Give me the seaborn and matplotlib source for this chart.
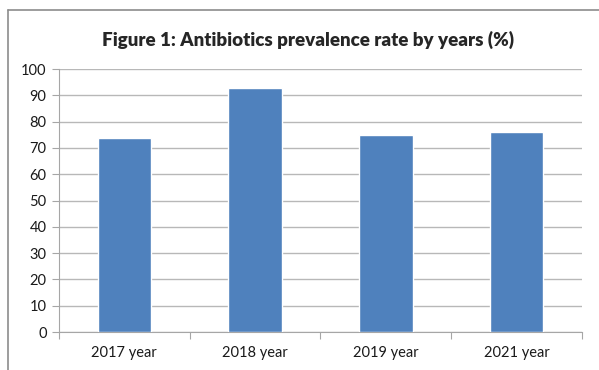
import matplotlib
matplotlib.use("Agg")
import matplotlib.pyplot as plt
import seaborn as sns
import pandas as pd
from matplotlib.lines import Line2D

# data
years = ["2017 year", "2018 year", "2019 year", "2021 year"]
rates = [73.6, 92.7, 74.9, 76.0]
y_ticks = list(range(0, 101, 10))

df = pd.DataFrame({"year": years, "rate": rates})

sns.set_style("white")
plt.rcParams["font.family"] = ["Lato", "DejaVu Sans"]

fig = plt.figure(figsize=(5.99, 3.70), dpi=100)
ax = fig.add_axes([0.0985, 0.1027, 0.8731, 0.7108])

sns.barplot(data=df, x="year", y="rate", color="#4F81BD", width=0.41,
            saturation=1, ax=ax, zorder=3)

ax.set_ylim(0, 100)
ax.set_xlim(-0.5, len(years) - 0.5)
ax.set_yticks(y_ticks)
ax.set_xlabel("")
ax.set_ylabel("")
ax.yaxis.grid(True, color="#B8B8B8", linewidth=1, zorder=0)
ax.set_axisbelow(True)

for s in ["top", "right"]:
    ax.spines[s].set_visible(False)
ax.spines["left"].set_color("#A6A6A6")
ax.spines["bottom"].set_color("#A6A6A6")

# x ticks sit on category boundaries, labels in between
ax.set_xticks([i - 0.5 for i in range(len(years) + 1)], minor=False)
ax.set_xticklabels([])
ax.set_xticks(range(len(years)), minor=True)
ax.set_xticklabels(years, minor=True)
ax.tick_params(axis="x", which="major", length=5, color="#A6A6A6", direction="out", bottom=True)
ax.tick_params(axis="x", which="minor", length=0, labelsize=10.5, pad=10, labelcolor="#1a1a1a")
ax.tick_params(axis="y", length=5, color="#A6A6A6", direction="out", left=True,
               labelsize=10.5, pad=4, labelcolor="#1a1a1a")

fig.text(0.514, 0.893, "Figure 1: Antibiotics prevalence rate by years (%)",
         ha="center", va="center", fontsize=13.5, fontweight="heavy")

# outer chart frame (left and top edges visible)
fig.add_artist(Line2D([8 / 599, 8 / 599], [0, 1 - 10 / 370], color="#8C8C8C", lw=1.2))
fig.add_artist(Line2D([8 / 599, 1], [1 - 10 / 370, 1 - 10 / 370], color="#8C8C8C", lw=1.2))

fig.savefig("out.png", dpi=100)
